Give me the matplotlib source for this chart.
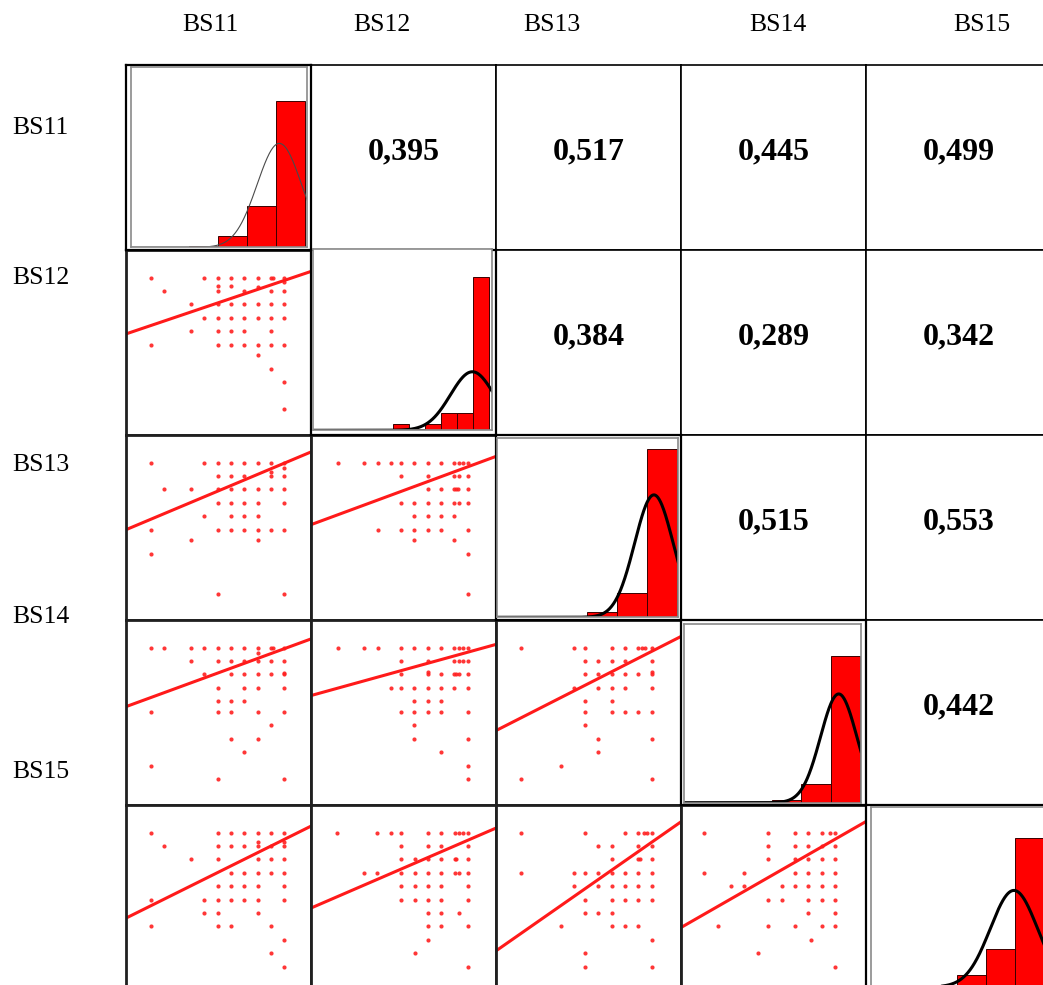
import numpy as np
import matplotlib
matplotlib.use("Agg")
import matplotlib.pyplot as plt

W, H = 1043, 985

variables = ["BS11", "BS12", "BS13", "BS14", "BS15"]

# correlaciones (triángulo superior), en orden de pares
corr_pairs = [(0, 1), (0, 2), (0, 3), (0, 4), (1, 2), (1, 3), (1, 4), (2, 3), (2, 4), (3, 4)]
corr_values = [0.395, 0.517, 0.445, 0.499, 0.384, 0.289, 0.342, 0.515, 0.553, 0.442]

# histogramas de la diagonal (frecuencias por clase)
counts_bs11 = [0, 0, 1, 11, 41, 146]
counts_bs12 = [0, 0, 0, 1, 0, 6, 1, 6, 17, 17, 153]
counts_bs13 = [0, 0, 0, 5, 24, 168]
counts_bs14 = [0, 0, 0, 3, 19, 147]
counts_bs15 = [0, 0, 0, 12, 38, 149]
# curva normal: media y desviación (en unidades de clase)
normal_mean = [5.115, 9.98, 5.22, 5.28, 4.98]
normal_sd = [0.764, 1.37, 0.642, 0.62, 0.822]

# nubes de puntos (triángulo inferior): (y, [x...]) por fila
pts_bs12_bs11 = [(10, [0, 4, 5, 6, 7, 8, 9, 9.12, 10]), (9.7, [10]), (9.4, [5, 6]), (9.3, [8]),
                 (9, [1, 5, 7, 9, 10]), (8, [3, 5, 6, 7, 8, 9, 10]), (7, [4, 5, 6, 7, 8, 9, 10]),
                 (6, [3, 5, 6, 7, 9]), (5, [0, 5, 6, 7, 8, 9, 10]), (4.2, [8]), (3.2, [9]),
                 (2.2, [10]), (0.2, [10])]
pts_bs13_bs11 = [(10, [0, 4, 5, 6, 7, 8, 9, 10]), (9.6, [10]), (9.3, [9]), (9, [5, 6, 7, 9, 10]),
                 (8, [1, 3, 5, 6, 7, 8, 9, 10]), (7, [5, 6, 7, 8, 10]), (6, [4, 6, 7, 8]),
                 (5, [0, 5, 6, 7, 8, 9, 10]), (4.2, [3, 8]), (3.2, [0]), (0.2, [5, 10])]
pts_bs13_bs12 = [(10, [0.125, 2.125, 3.125, 4.125, 4.875, 5.875, 6.875, 7.875, 8.875, 9.25, 9.5, 9.875]),
                 (9, [4.875, 6.875, 8.875, 9.25, 9.875]), (8, [6.875, 7.875, 8.875, 9.0, 9.125, 9.875]),
                 (7, [4.875, 5.875, 6.875, 7.875, 8.875, 9.25, 9.875]), (6, [5.875, 6.875, 7.875, 8.875]),
                 (5, [3.125, 4.875, 5.875, 6.875, 7.875, 9.875]), (4.2, [5.875, 8.875]),
                 (3.2, [9.875]), (0.2, [9.875])]
pts_bs14_bs11 = [(10, [0, 1, 3, 4, 5, 6, 7, 8, 9, 9.12, 10]), (9.6, [8]), (9, [3, 5, 6, 7, 8, 9, 10]),
                 (8.1, [10]), (8, [4, 6, 7, 8, 9, 10]), (7, [5, 7, 8, 10]), (6, [5, 6, 7]),
                 (5.2, [0, 5, 6, 8, 10]), (4.2, [9]), (3.2, [6, 8]), (2.2, [7]), (1.2, [0]),
                 (0.2, [5, 10])]
pts_bs14_bs12 = [(10, [0.125, 2.125, 3.125, 4.875, 5.875, 6.875, 7.875, 8.875, 9.25, 9.5, 9.875]),
                 (9, [4.875, 6.875, 8.875, 9.25, 9.5, 9.875]), (8.2, [6.875]),
                 (8, [4.875, 6.875, 7.875, 8.875, 9.0, 9.25, 9.875]),
                 (7, [4.125, 4.875, 5.875, 6.875, 7.875, 8.875, 9.875]), (6, [5.875, 6.875, 7.875]),
                 (5.2, [4.875, 5.875, 6.875, 7.875, 9.875]), (4.2, [5.875]), (3.2, [5.875, 9.875]),
                 (2.2, [7.875]), (1.2, [9.875]), (0.2, [9.875])]
pts_bs14_bs13 = [(10, [0, 4, 4.8, 6.8, 7.8, 8.8, 9.05, 9.3, 9.8]), (9, [4.8, 5.8, 6.8, 7.8, 9.8]),
                 (8.2, [9.8]), (8, [4.8, 5.8, 6.8, 7.8, 8.8, 9.8]), (7, [4, 5.8, 6.8, 7.8, 9.8]),
                 (6, [4.8, 6.8]), (5.2, [4.8, 6.8, 7.8, 8.8, 9.8]), (4.2, [4.8]), (3.2, [5.8, 9.8]),
                 (2.2, [5.8]), (1.2, [3]), (0.2, [0, 9.8])]
pts_bs15_bs11 = [(10, [0, 5, 6, 7, 8, 9, 10]), (9.3, [8, 10]), (9, [1, 5, 6, 7, 8, 9, 10]),
                 (8, [3, 5, 8, 9, 10]), (7, [6, 7, 8, 9, 10]), (6, [5, 6, 7, 8, 10]),
                 (5, [0, 4, 5, 6, 7, 8, 10]), (4, [4, 5, 8]), (3, [0, 5, 6, 9]), (2, [10]),
                 (1, [9]), (0, [10])]
pts_bs15_bs12 = [(10, [0.1, 3.1, 4.1, 4.9, 6.9, 7.9, 8.9, 9.25, 9.5, 9.9]), (9, [4.9, 6.9, 7.9, 9.9]),
                 (8, [4.9, 5.9, 6.9, 7.9, 8.9, 9.02, 9.9]),
                 (7, [2.1, 3.1, 4.9, 5.9, 6.9, 7.9, 8.9, 9.25, 9.9]), (6, [4.9, 5.9, 6.9, 7.9, 9.9]),
                 (5, [4.9, 5.9, 6.9, 7.9, 9.9]), (4, [6.9, 7.9, 9.25]), (3, [6.9, 7.9, 9.9]),
                 (2, [6.9]), (1, [5.9]), (0, [9.9])]
pts_bs15_bs13 = [(10, [0, 4.8, 7.8, 8.8, 9.2, 9.45, 9.8]), (9, [5.8, 6.8, 8.8, 9.8]),
                 (8, [6.8, 8.8, 8.95, 9.8]), (7, [0, 4, 4.8, 5.8, 6.8, 7.8, 8.8, 9.8]),
                 (6, [4, 5.8, 6.8, 7.8, 8.8, 9.8]), (5, [4.8, 6.8, 7.8, 8.8, 9.8]),
                 (4, [4.8, 5.8, 6.8]), (3, [3, 6.8, 7.8, 8.8]), (2, [9.8]), (1, [4.8]),
                 (0, [4.8, 9.8])]
pts_bs15_bs14 = [(10, [-0.125, 4.675, 6.675, 7.675, 8.675, 9.275, 9.675]),
                 (9, [4.675, 6.675, 7.675, 8.675, 9.675]), (8, [4.675, 6.675, 7.675, 8.675, 9.675]),
                 (7, [-0.125, 2.875, 6.675, 7.675, 8.675, 9.675]),
                 (6, [1.875, 2.875, 5.675, 6.675, 7.675, 8.675, 9.675]),
                 (5, [4.675, 5.675, 7.675, 8.675, 9.675]), (4, [7.675, 9.675]),
                 (3, [0.875, 4.675, 6.675, 8.675, 9.675]), (2, [7.875]), (1, [3.875]), (0, [9.675])]

# rectas de regresión: (intercepto, pendiente)
fit_bs12_bs11 = (6.43, 0.336)
fit_bs13_bs11 = (5.78, 0.418)
fit_bs13_bs12 = (6.06, 0.367)
fit_bs14_bs11 = (6.28, 0.364)
fit_bs14_bs12 = (6.94, 0.275)
fit_bs14_bs13 = (4.76, 0.506)
fit_bs15_bs11 = (4.55, 0.4945)
fit_bs15_bs12 = (5.18, 0.43)
fit_bs15_bs13 = (2.48, 0.694)
fit_bs15_bs14 = (3.99, 0.570)

counts = [counts_bs11, counts_bs12, counts_bs13, counts_bs14, counts_bs15]
scatter = {(1, 0): (pts_bs12_bs11, fit_bs12_bs11), (2, 0): (pts_bs13_bs11, fit_bs13_bs11),
           (2, 1): (pts_bs13_bs12, fit_bs13_bs12), (3, 0): (pts_bs14_bs11, fit_bs14_bs11),
           (3, 1): (pts_bs14_bs12, fit_bs14_bs12), (3, 2): (pts_bs14_bs13, fit_bs14_bs13),
           (4, 0): (pts_bs15_bs11, fit_bs15_bs11), (4, 1): (pts_bs15_bs12, fit_bs15_bs12),
           (4, 2): (pts_bs15_bs13, fit_bs15_bs13), (4, 3): (pts_bs15_bs14, fit_bs15_bs14)}

# geometría de la matriz (pixeles)
col_left = [126, 311, 496, 681, 866]
row_top = [65, 250, 435, 620, 805]
cell = 185
# marco interior de los histogramas y ancho de clase en pixeles
inner_box = [(131, 66.7, 307.3, 247.3), (312.7, 249.3, 491.7, 430.3), (497.3, 438.3, 678.3, 617.3),
             (684, 624.3, 861, 802.7), (871, 806.7, 1046, 987)]
bin_px = [29.0, 16.0, 30.0, 29.3, 28.7]

fig = plt.figure(figsize=(W / 100, H / 100), dpi=100)
serif = ["Liberation Serif", "DejaVu Serif"]


def px_axes(l, t, r, b):
    return fig.add_axes([l / W, 1 - b / H, (r - l) / W, (b - t) / H])


def clean(ax, lw, color):
    ax.set_xticks([])
    ax.set_yticks([])
    for s in ax.spines.values():
        s.set_linewidth(lw)
        s.set_color(color)


# celdas con coeficientes
for (i, j), r in zip(corr_pairs, corr_values):
    ax = px_axes(col_left[j], row_top[i], col_left[j] + cell, row_top[i] + cell)
    clean(ax, 1.2, "black")
    ax.text(0.5, 0.53, f"{r:.3f}".replace(".", ","), transform=ax.transAxes, ha="center",
            va="center", fontsize=23, fontweight="bold", family=serif)

# dispersión con recta de ajuste
for (i, j), (rows, (b0, b1)) in scatter.items():
    ax = px_axes(col_left[j], row_top[i], col_left[j] + cell, row_top[i] + cell)
    clean(ax, 2.0, "#202020")
    xs = [x for y, xr in rows for x in xr]
    ys = [y for y, xr in rows for x in xr]
    ax.scatter(xs, ys, s=9, color="#ff2020", linewidths=0, alpha=0.9)
    xl = np.array([-1.875, 12.0])
    ax.plot(xl, b0 + b1 * xl, color="#ff1a1a", lw=2.2)
    ax.set_xlim(-1.875, 12.0)
    ax.set_ylim(-1.74, 12.06)

# histogramas con curva normal
for k in range(5):
    ax = px_axes(col_left[k], row_top[k], col_left[k] + cell, row_top[k] + cell)
    clean(ax, 1.6, "black")
    l, t, r, b = inner_box[k]
    hx = px_axes(l, t, r, b)
    clean(hx, 1.2, "#8a8a8a")
    c = np.array(counts[k], dtype=float)
    pos = np.arange(len(c)) + 0.5
    nz = c > 0
    hx.bar(pos[nz], c[nz], width=1.0, color="#ff0000", edgecolor="#3a0000", linewidth=0.7)
    xmax = (r - l) / bin_px[k]
    xx = np.linspace(0, xmax, 400)
    mu, sd = normal_mean[k], normal_sd[k]
    yy = c.sum() * np.exp(-0.5 * ((xx - mu) / sd) ** 2) / (sd * np.sqrt(2 * np.pi))
    if k == 0:
        hx.plot(xx, yy, color="#4a4a4a", lw=0.8)
    else:
        hx.plot(xx, yy, color="black", lw=2.2)
    hx.set_xlim(0, xmax)
    hx.set_ylim(0, b - t)

# encabezados de filas y columnas
col_label_x = [210, 382, 552, 778, 982]
row_label_y = [128, 278, 465, 617, 772]
for name, x in zip(variables, col_label_x):
    fig.text(x / W, 1 - 25 / H, name, ha="center", va="center", fontsize=18.5, family=serif)
for name, y in zip(variables, row_label_y):
    fig.text(12 / W, 1 - y / H, name, ha="left", va="center", fontsize=18.5, family=serif)

fig.savefig("out.png", dpi=100)
